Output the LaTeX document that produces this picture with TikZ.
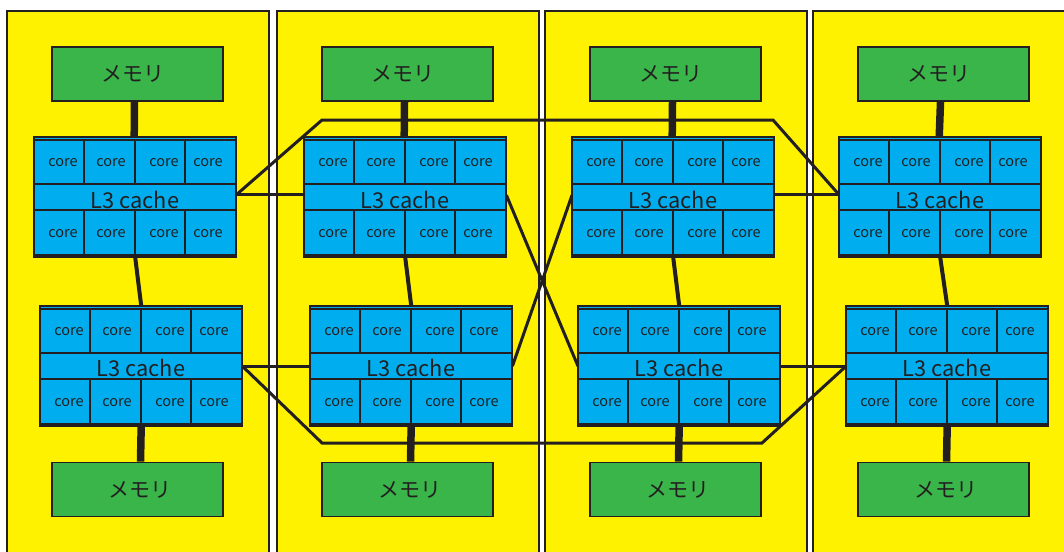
\documentclass[tikz,border=0pt]{standalone}
\usepackage{fontspec}
\setmainfont{Noto Sans CJK JP}
\usetikzlibrary{calc}
\definecolor{py}{HTML}{FFF200}
\definecolor{mg}{HTML}{39B54A}
\definecolor{cb}{HTML}{00AEEF}
\definecolor{dk}{HTML}{231F20}
\tikzset{
  panel/.style={fill=py, draw=dk, line width=1.5pt},
  mem/.style={fill=mg, draw=dk, line width=1.8pt, minimum width=171pt, minimum height=54pt, inner sep=0pt},
  memtxt/.style={inner sep=0pt, font=\fontsize{21}{23}\selectfont, text=dk},
  memlink/.style={draw=dk, line width=7.5pt},
  cpulink/.style={draw=dk, line width=4pt},
  bus/.style={draw=dk, line width=3pt, line join=miter},
  cpuframe/.style={inner sep=0pt, minimum width=202pt, minimum height=120pt, anchor=north west},
  l3row/.style={inner sep=0pt, minimum width=202pt, minimum height=26pt, anchor=north west},
  coretxt/.style={inner sep=0pt, font=\fontsize{14.5}{16}\selectfont, text=dk},
  l3txt/.style={inner sep=0pt, font=\fontsize{21.8}{23}\selectfont, text=dk},
  grid/.style={draw=dk, line width=1.6pt},
  outer/.style={draw=dk, line width=2.4pt}
}
\newcommand\cpublock[3]{%
  \fill[cb] (#2,#3) rectangle ++(202,120);
  \node[cpuframe] (#1) at (#2,#3) {};
  \node[l3row] (#1-l3) at (#2,#3+47) {};
  \draw[grid] (#2,#3+3) -- ++(202,0);
  \draw[grid] (#2,#3+47) -- ++(202,0);
  \draw[grid] (#2,#3+73) -- ++(202,0);
  \draw[grid] (#2,#3+118) -- ++(202,0);
  \foreach \vx in {50,101,151} {
    \draw[grid] (#2+\vx,#3+3) -- ++(0,44);
    \draw[grid] (#2+\vx,#3+73) -- ++(0,45);
  }
  \draw[outer] (#2,#3) rectangle ++(202,120);
  \foreach \cx [count=\i] in {29,77,130,174} {
    \node[coretxt] (#1-u\i) at (#2+\cx,#3+25.5) {core};
    \node[coretxt] (#1-d\i) at (#2+\cx,#3+96.5) {core};
  }
  \node[l3txt] (#1-t) at (#2+101,#3+62.5) {L3 cache};
}
\begin{document}
\begin{tikzpicture}[x=1pt,y=-1pt]
\useasboundingbox (0,0) rectangle (1064,551);
\fill[white] (0,0) rectangle (1064,551);
\begin{scope}
\clip (0,0) rectangle (1064,551);
\foreach \dx in {0,270,538,806} {
  \draw[panel] (7+\dx,11) rectangle (269+\dx,570);
}
\end{scope}

% memories
\foreach \n/\x in {1/137.5,2/407.5,3/675.5,4/943.5} {
  \node[mem] (m\n t) at (\x,74) {};
  \node[memtxt] (m\n t-t) at (\x-5,74) {メモリ};
  \node[mem] (m\n b) at (\x,489.5) {};
  \node[memtxt] (m\n b-t) at (\x+2.5,489.5) {メモリ};
}

% coordinates for bus corners
\coordinate (ul) at (322,120);
\coordinate (ur) at (773,120);
\coordinate (ll) at (322,443);
\coordinate (lr) at (762,443);

% frames for naming
\foreach \n/\x in {1/34,2/304,3/572,4/839} {
  \node[cpuframe] (c\n t) at (\x,137) {};
  \node[l3row] (c\n t-l3) at (\x,184) {};
}
\foreach \n/\x in {1/40,2/310,3/578,4/846} {
  \node[cpuframe] (c\n b) at (\x,305.7) {};
  \node[l3row] (c\n b-l3) at (\x,353) {};
}

% memory links
\foreach \n in {1,2,3,4} {
  \draw[memlink] ($(m\n t.south)+(-3,0)$) -- ($(c\n t.north)+(-1,0)$);
  \draw[memlink] (c\n b.south) -- ($(m\n b.north)+(3,0)$);
  \draw[cpulink] (c\n t.south) -- (c\n b.north);
}

% buses
\draw[bus] ($(c1t-l3.east)+(0,-2.5)$) -- ($(c2t-l3.west)+(0,-2.5)$);
\draw[bus] ($(c3t-l3.east)+(0,-2.5)$) -- ($(c4t-l3.west)+(0,-2.5)$);
\draw[bus] ($(c1t-l3.east)+(0,-2.5)$) -- (ul) -- (ur) -- ($(c4t-l3.west)+(0,-2.5)$);
\draw[bus] (c1b-l3.east) -- (c2b-l3.west);
\draw[bus] (c3b-l3.east) -- (c4b-l3.west);
\draw[bus] (c1b-l3.east) -- (ll) -- (lr) -- (c4b-l3.west);
\draw[bus] ($(c2t-l3.east)+(0,-2)$) -- (c3b-l3.west);
\draw[bus] ($(c3t-l3.west)+(0,-2)$) -- (c2b-l3.east);

% cpu blocks
\cpublock{p1t}{34}{137}
\cpublock{p2t}{304}{137}
\cpublock{p3t}{572}{137}
\cpublock{p4t}{839}{137}
\cpublock{p1b}{40}{305.7}
\cpublock{p2b}{310}{305.7}
\cpublock{p3b}{578}{305.7}
\cpublock{p4b}{846}{305.7}
\end{tikzpicture}
\end{document}
